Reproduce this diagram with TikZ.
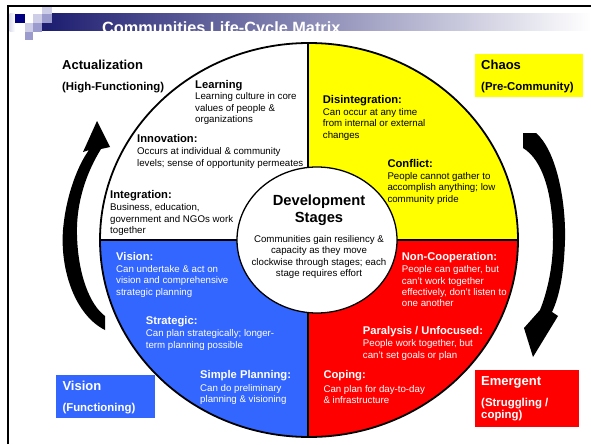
\documentclass[tikz,border=0pt]{standalone}
\usepackage{fontspec}
\setmainfont{Liberation Sans}
\definecolor{navy}{RGB}{0,0,128}
\definecolor{barnavy}{RGB}{28,28,112}
\definecolor{barmid}{RGB}{160,160,198}
\definecolor{lav}{RGB}{205,205,232}
\definecolor{lavmed}{RGB}{155,155,205}
\definecolor{myblue}{RGB}{51,102,255}
\definecolor{myred}{RGB}{255,0,0}
\definecolor{myyellow}{RGB}{255,255,0}
\newcommand\hdfont{\fontsize{11.2}{11.5}\selectfont\bfseries}
\newcommand\bdfont{\fontsize{9.7}{11.4}\selectfont}
\newcommand\bigfont{\fontsize{13}{14}\selectfont\bfseries}
\newcommand\parfont{\fontsize{11.4}{12}\selectfont\bfseries}
\newcommand\myblock[1]{\begin{tabular}[t]{@{}l@{}}#1\end{tabular}}
\newcommand\mycblock[1]{\begin{tabular}[t]{@{}c@{}}#1\end{tabular}}
\tikzset{
  blk/.style={anchor=base west, inner sep=0pt, font=\bdfont},
  wblk/.style={blk, text=white},
  cblk/.style={anchor=base, inner sep=0pt, font=\bdfont},
  thickline/.style={line width=1.8pt},
}
\begin{document}
\begin{tikzpicture}[x=1pt,y=-1pt]
\useasboundingbox (0,0) rectangle (591,444);
% frame
\draw[line width=2.3pt] (8.3,444) -- (8.3,6.2) -- (591,6.2);
% title bar
\shade[left color=barnavy, middle color=barmid, right color=white] (42,14) rectangle (591,31);
\shade[left color=lav!70, right color=white] (9.5,14) rectangle (15,32);
\fill[navy] (15,14) rectangle (25,23);
\fill[lav] (42,7.5) rectangle (52,14);
\fill[lav] (33,14) rectangle (42,23);
\fill[lavmed] (42,14) rectangle (52,23);
\fill[lav] (25,23) rectangle (33,32);
\fill[lavmed] (33,23) rectangle (42,32);
\fill[lavmed] (25,32) rectangle (33,40);
\node[anchor=base west, inner sep=0pt, font=\fontsize{16.3}{18}\selectfont\bfseries, text=white] (title) at (102,33.4) {Communities Life-Cycle Matrix};
% big circle sectors
\begin{scope}
\clip (309,240) ellipse [x radius=209pt, y radius=197pt];
\fill[myyellow] (308,30) rectangle (530,240);
\fill[myred] (308,240) rectangle (530,450);
\fill[myblue] (90,240) rectangle (308,450);
\end{scope}
\draw[thickline] (309,240) ellipse [x radius=209pt, y radius=197pt];
\draw[thickline] (308,43) -- (308,437);
\draw[thickline] (100,240) -- (518,240);
\filldraw[fill=white, line width=1.3pt] (317,240) ellipse [x radius=80pt, y radius=73pt];
% curved arrows
\fill[black] (105,330) .. controls (75,315) and (60,270) .. (63,230)
  .. controls (66,195) and (78,165) .. (89,150) -- (83,152) -- (97,121) -- (110,147) -- (101,149)
  .. controls (88,170) and (76,200) .. (77,235) .. controls (78,275) and (90,305) .. (105,316) -- cycle;
\fill[black] (523,133) -- (536,133) .. controls (556,150) and (566,200) .. (565,240)
  .. controls (564,272) and (560,295) .. (552,312) -- (558,316) -- (533,357) -- (524,328) -- (540,310)
  .. controls (548,290) and (553,265) .. (553,240) .. controls (553,195) and (543,160) .. (523,148) -- cycle;
% white sector
\node[blk] (learn) at (195,88) {\myblock{{\hdfont Learning}\\[0.6pt] Learning culture in core\\ values of people \&\\ organizations}};
\node[blk] (innov) at (137,142) {\myblock{{\hdfont Innovation:}\\[1.2pt] Occurs at individual \& community\\ levels; sense of opportunity permeates}};
\node[blk] (integ) at (110,198.3) {\myblock{{\hdfont Integration:}\\[1pt] Business, education,\\ government and NGOs work\\ together}};
% blue sector
\node[wblk] (vis) at (116,260) {\myblock{{\hdfont Vision:}\\[1pt] Can undertake \& act on\\ vision and comprehensive\\ strategic planning}};
\node[wblk] (strat) at (145.7,324) {\myblock{{\hdfont Strategic:}\\[1.2pt] Can plan strategically; longer-\\ term planning possible}};
\node[wblk] (simp) at (200,378.3) {\myblock{{\hdfont Simple Planning:}\\[1.8pt] Can do preliminary\\ planning \& visioning}};
% yellow sector
\node[blk] (disint) at (322.7,103.3) {\myblock{{\hdfont Disintegration:}\\[0.5pt] Can occur at any time\\ from internal or external\\ changes}};
\node[blk] (confl) at (387.3,167.3) {\myblock{{\hdfont Conflict:}\\[0.8pt] People cannot gather to\\ accomplish anything; low\\ community pride}};
% red sector
\node[wblk] (noncoop) at (401.7,260) {\myblock{{\hdfont Non-Cooperation:}\\[1.2pt] People can gather, but\\ can’t work together\\ effectively, don’t listen to\\ one another}};
\node[wblk] (paral) at (362.7,334) {\myblock{{\hdfont Paralysis / Unfocused:}\\[1.2pt] People work together, but\\ can’t set goals or plan}};
\node[wblk] (coping) at (323.3,378.3) {\myblock{{\hdfont Coping:}\\[2.5pt] Can plan for day-to-day\\ \& infrastructure}};
% center
\node[cblk, font=\fontsize{14.7}{17.5}\selectfont\bfseries] (devt) at (319,205) {\mycblock{Development\\ Stages}};
\node[cblk] (devb) at (319,242.3) {\mycblock{Communities gain resiliency \&\\ capacity as they move\\ clockwise through stages; each\\ stage requires effort}};
% side labels
\node[blk] (act) at (62,69.3) {\myblock{{\bigfont Actualization}\\[10pt] {\parfont (High-Functioning)}}};
\fill[myyellow] (475,54) rectangle (583,97);
\node[blk] (chaos) at (481,69.3) {\myblock{{\bigfont Chaos}\\[10pt] {\parfont (Pre-Community)}}};
\fill[myblue] (56,375) rectangle (155,418);
\node[wblk] (visl) at (62.3,390.7) {\myblock{{\bigfont Vision}\\[9.6pt] {\parfont (Functioning)}}};
\fill[myred] (475,370) rectangle (579,427);
\node[wblk] (emer) at (481,385.7) {\myblock{{\bigfont Emergent}\\[9.6pt] {\parfont (Struggling /}\\[0.2pt] {\parfont coping)}}};
\end{tikzpicture}
\end{document}
